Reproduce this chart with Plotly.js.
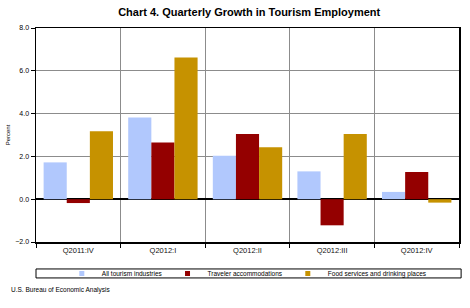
<!DOCTYPE html>
<html>
<head>
<meta charset="utf-8">
<script src="https://cdn.plot.ly/plotly-3.0.1.min.js"></script>
<style>
  html, body { margin: 0; padding: 0; background: #fff; }
  #plot { width: 470px; height: 308px; }
</style>
</head>
<body>
<div id="plot"></div>
<script>
// Quarter labels
const quarters = ['Q2011:IV', 'Q2012:I', 'Q2012:II', 'Q2012:III', 'Q2012:IV'];

// Percent growth
const allTourism = [1.72, 3.82, 2.03, 1.30, 0.34];
const travelerAccom = [-0.18, 2.65, 3.05, -1.22, 1.27];
const foodDrink = [3.17, 6.62, 2.43, 3.05, -0.16];

const seriesNames = ['All tourism industries', 'Traveler accommodations', 'Food services and drinking places'];
const seriesColors = ['#b1c8fd', '#940000', '#c69200'];

const font = 'Liberation Sans, Arial, sans-serif';

function barTrace(vals, i) {
    return {
        type: 'bar',
        x: quarters,
        y: vals,
        name: seriesNames[i],
        marker: { color: seriesColors[i], line: { width: 0 } },
        showlegend: false,
        hoverinfo: 'x+y+name'
    };
}

// small square legend keys (bar legend swatches are too big)
function legendKey(i) {
    return {
        type: 'scatter',
        mode: 'markers',
        x: [null],
        y: [null],
        name: seriesNames[i],
        marker: { symbol: 'square', size: 5, color: seriesColors[i] },
        showlegend: true
    };
}

const data = [
    barTrace(allTourism, 0),
    barTrace(travelerAccom, 1),
    barTrace(foodDrink, 2),
    legendKey(0), legendKey(1), legendKey(2)
];

const layout = {
    width: 470,
    height: 308,
    margin: { l: 36, r: 11, t: 28, b: 66 },
    paper_bgcolor: '#fff',
    plot_bgcolor: '#fff',
    font: { family: font, color: '#000', size: 7 },
    barmode: 'group',
    bargap: 0.18,
    bargroupgap: 0,
    title: {
        text: '<b>Chart 4. Quarterly Growth in Tourism Employment</b>',
        font: { family: font, size: 11, color: '#000' },
        xref: 'paper', x: 0.504, xanchor: 'center',
        yref: 'container', y: 0.961, yanchor: 'middle'
    },
    xaxis: {
        type: 'category',
        tickson: 'boundaries',
        ticks: 'outside',
        ticklen: 4,
        tickcolor: '#000',
        showgrid: true,
        gridcolor: '#8c8c8c',
        gridwidth: 1,
        showline: true,
        linecolor: '#000',
        linewidth: 1.5,
        mirror: true,
        tickfont: { family: font, size: 7.5, color: '#111' },
        fixedrange: true
    },
    yaxis: {
        range: [-2, 8],
        dtick: 2,
        tick0: 0,
        tickformat: '.1f',
        ticks: 'outside',
        ticklen: 4,
        tickcolor: '#000',
        showgrid: true,
        gridcolor: '#8c8c8c',
        gridwidth: 1,
        zeroline: true,
        zerolinecolor: '#000',
        zerolinewidth: 1.5,
        showline: true,
        linecolor: '#000',
        linewidth: 1.5,
        mirror: true,
        tickfont: { family: font, size: 7, color: '#000' },
        title: { text: 'Percent', font: { family: font, size: 6, color: '#000' }, standoff: 4 },
        fixedrange: true
    },
    legend: {
        orientation: 'h',
        x: 0.061, xanchor: 'left',
        y: -0.147, yanchor: 'middle',
        font: { family: font, size: 6.5, color: '#000' },
        bgcolor: 'rgba(0,0,0,0)',
        borderwidth: 0
    },
    shapes: [{
        type: 'rect',
        xref: 'paper', yref: 'paper',
        x0: 0, x1: 1.005, y0: -0.168, y1: -0.126,
        line: { color: '#000', width: 1 },
        fillcolor: 'rgba(0,0,0,0)'
    }],
    annotations: [{
        text: 'U.S. Bureau of Economic Analysis',
        xref: 'paper', yref: 'paper',
        x: -0.064, y: -0.226,
        xanchor: 'left', yanchor: 'middle',
        showarrow: false,
        font: { family: font, size: 6.5, color: '#000' }
    }]
};

Plotly.newPlot('plot', data, layout, { displayModeBar: false, staticPlot: true });
</script>
</body>
</html>
